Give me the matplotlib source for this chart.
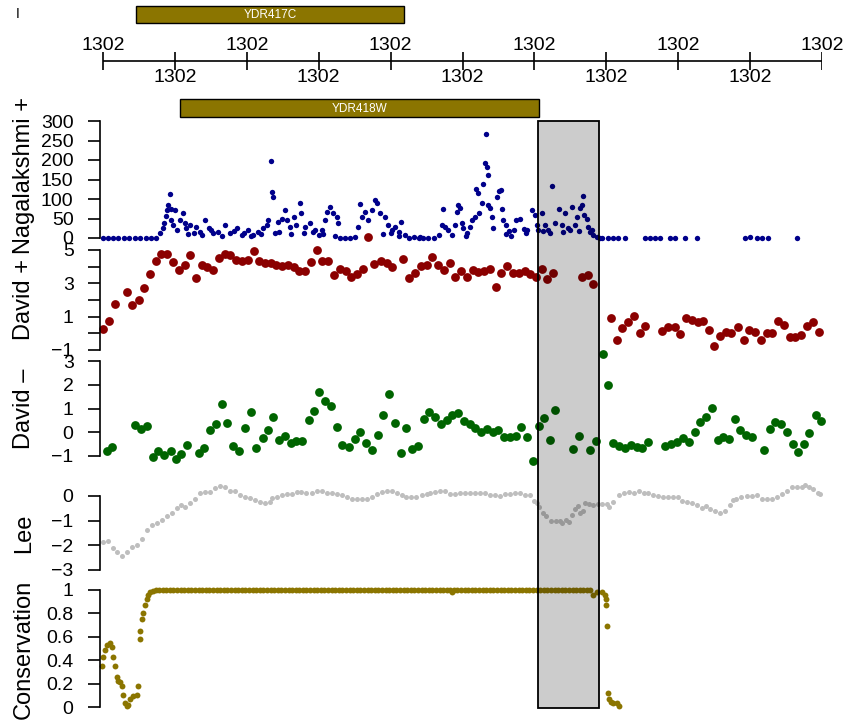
import numpy as np
import matplotlib.pyplot as plt
from matplotlib.patches import Rectangle

plt.rcParams['font.family'] = ['Liberation Sans', 'DejaVu Sans']

W, H = 852, 722

# genomic window (positions are bp offsets from region_start)
region_start = 1301500
tick_pos = [0, 100, 200, 300, 400, 500, 600, 700, 800, 900, 1000]

gene_names = ['YDR417C', 'YDR418W']
gene_start = [46, 107]
gene_end = [419, 606]

highlight_start = 605
highlight_end = 690

# Nagalakshmi + (read counts)
naga_pos = [0, 7, 14, 21, 29, 36, 45, 51, 60, 67, 74,
            79, 83, 85, 87, 89, 91, 93, 94, 95, 98, 100, 103, 107, 111, 114, 116, 118, 121, 126, 130,
            135, 138, 142, 147, 150, 153, 160, 165, 170, 177, 182, 186, 193, 196, 202, 206, 209, 216, 220,
            223, 228, 230, 233, 235, 236, 239, 244, 245, 249, 253, 256, 260, 262, 265, 269, 274, 276, 279,
            281, 288, 292, 295, 300, 304, 306, 309, 311, 316, 320, 322, 325, 327, 330, 337, 344, 351, 355,
            357, 360, 364, 369, 374, 378, 381, 385, 390, 392, 397, 400, 402, 406, 411, 412, 415, 420, 425,
            432, 439, 441, 445, 452, 460, 467, 471, 473, 476, 480, 485, 490, 492, 494, 496, 499, 501, 505,
            506, 511, 513, 517, 519, 521, 523, 527, 529, 531, 533, 534, 535, 536, 538, 541, 543, 548, 551,
            553, 555, 557, 560, 561, 564, 567, 571, 575, 580, 585, 589, 590, 596, 601, 603, 605, 610, 612,
            615, 619, 622, 625, 629, 634, 638, 640, 643, 647, 650, 652, 657, 659, 662, 663, 666, 667, 669,
            673, 675, 678, 680, 682, 687, 691, 694, 702, 709, 716, 726, 754, 761, 768, 775, 789, 796, 810,
            826, 893, 900, 910, 917, 925, 965]
naga_val = [0, 0, 0, 0, 0, 0, 0, 0, 0, 0, 0,
            12, 25, 38, 56, 72, 85, 113, 74, 46, 33, 72, 21, 46, 63, 38, 25, 10, 33, 12, 29,
            16, 8, 46, 25, 20, 12, 16, 5, 33, 12, 18, 25, 8, 14, 21, 5, 8, 16, 10,
            25, 33, 46, 198, 119, 104, 12, 42, 15, 50, 72, 46, 29, 10, 55, 33, 89, 63, 12,
            29, 38, 15, 21, 8, 21, 10, 46, 67, 80, 63, 5, 55, 38, 0, 0, 0, 3, 29,
            87, 55, 67, 46, 72, 97, 89, 63, 10, 55, 33, 12, 21, 29, 16, 5, 42, 8, 0,
            3, 0, 3, 0, 0, 0, 8, 33, 74, 29, 21, 8, 33, 67, 85, 76, 38, 25, 5,
            12, 29, 46, 55, 125, 116, 63, 89, 138, 192, 267, 181, 161, 85, 76, 55, 25, 104, 121,
            123, 74, 46, 10, 33, 19, 5, 21, 46, 50, 22, 12, 20, 72, 59, 33, 21, 63, 18,
            33, 21, 12, 133, 38, 74, 33, 15, 63, 25, 20, 79, 33, 53, 18, 76, 85, 108, 59,
            50, 29, 16, 20, 8, 3, 0, 0, 0, 0, 0, 0, 0, 0, 0, 0, 0, 0, 0,
            0, 0, 2, 0, 0, 0, 0]

# David + (log ratio)
dplus_pos = [0, 9, 17, 33, 41, 50, 57, 65, 73, 81, 89, 97, 106, 114, 121, 130, 137, 145, 153, 161,
             169, 177, 185, 193, 201, 210, 217, 225, 233, 241, 249, 257, 265, 273, 281, 289, 298, 305,
             313, 321, 330, 338, 345, 353, 362, 369, 377, 386, 395, 402, 417, 425, 434, 442, 450, 458,
             466, 474, 483, 490, 498, 506, 514, 522, 530, 538, 546, 554, 562, 570, 578, 587, 594, 602,
             611, 618, 626, 666, 674, 682,
             706, 715, 722, 730, 739, 747, 754, 778, 786, 795, 803, 811, 819, 827, 835, 843, 850, 858,
             867, 874, 883, 891, 899, 907, 915, 923, 931, 939, 947, 955, 963, 971, 979, 987, 996]
dplus_val = [0.25, 0.76, 1.77, 2.5, 1.68, 2.03, 2.72, 3.59, 4.35, 4.78, 4.78, 4.31, 3.83, 4.11, 4.68,
             3.35, 4.09, 3.97, 3.81, 4.53, 4.74, 4.68, 4.38, 4.33, 4.39, 4.92, 4.33, 4.25, 4.21, 4.09,
             4.05, 4.11, 3.97, 3.77, 3.77, 4.29, 5.0, 4.33, 4.33, 3.53, 3.89, 3.73, 3.41, 3.59, 3.89,
             5.79, 4.19, 4.33, 4.21, 4.01, 4.45, 3.35, 3.61, 4.05, 4.09, 4.58, 4.13, 3.81, 4.21, 3.41,
             3.77, 3.41, 3.81, 3.69, 3.73, 3.89, 2.8, 3.65, 4.05, 3.61, 3.65, 3.73, 3.56, 3.41, 3.85,
             3.24, 3.65, 3.41, 3.5, 2.98,
             0.92, -0.39, 0.32, 0.70, 1.04, 0.01, 0.44, 0.13, 0.39, 0.39, -0.05, 0.90, 0.82, 0.68,
             0.74, 0.21, -0.78, -0.17, 0.07, 0.01, 0.39, -0.39, 0.21, 0.07, -0.39, 0.01, 0.01, 0.74,
             0.50, -0.23, -0.23, -0.11, 0.44, 0.70, 0.07]

# David - (log ratio)
dminus_pos = [5, 13, 45, 53, 61, 69, 77, 85, 94, 101, 109, 117, 133, 141, 149, 157, 165, 173, 181,
              189, 198, 206, 213, 222, 229, 237, 245, 253, 261, 269, 277, 286, 293, 301, 309, 317,
              325, 333, 342, 350, 357, 366, 374, 382, 390, 398, 406, 414, 422, 430, 438, 446, 454,
              462, 470, 478, 486, 494, 502, 511, 518, 526, 534, 542, 550, 558, 566, 574, 582, 590,
              598, 606, 614, 622, 629, 654, 662, 678, 686, 695, 702, 710, 718, 726, 734, 742, 750,
              758, 782, 790, 798, 806, 815, 823, 830, 839, 847, 855, 863, 871, 879, 886, 894, 903,
              919, 927, 935, 943, 951, 959, 967, 975, 982, 991, 999]
dminus_val = [-0.79, -0.62, 0.31, 0.14, 0.26, -1.06, -0.80, -0.97, -0.77, -1.14, -0.90, -0.55,
              -0.86, -0.66, 0.08, 0.33, 1.21, 0.39, -0.57, -0.80, 0.18, 0.84, -0.67, -0.25, 0.09,
              0.65, -0.31, -0.15, -0.45, -0.35, -0.36, 0.52, 0.90, 1.71, 1.30, 1.10, 0.22, -0.55,
              -0.60, -0.28, -0.01, -0.45, -0.74, -0.12, 0.73, 1.63, 0.39, -0.86, 0.18, -0.72, -0.59,
              0.56, 0.84, 0.63, 0.35, 0.53, 0.71, 0.82, 0.46, 0.35, 0.18, 0.02, 0.15, 0.01, 0.11,
              -0.18, -0.21, -0.16, 0.22, -0.18, -1.23, 0.26, 0.60, -0.32, 0.94, -0.72, -0.16, -0.74,
              -0.36, 3.29, 2.01, -0.46, -0.56, -0.66, -0.53, -0.63, -0.65, -0.40, -0.59, -0.49,
              -0.43, -0.23, -0.42, 0.01, 0.45, 0.65, 1.03, -0.33, -0.20, -0.29, 0.57, 0.11, -0.12,
              -0.18, -0.74, 0.15, 0.42, 0.36, 0.02, -0.50, -0.84, -0.50, -0.03, 0.74, 0.49]

# Lee (nucleosome occupancy)
lee_pos = [0, 7, 14, 19, 27, 33, 40, 47, 54, 61, 68, 75, 82, 89, 96, 103, 109, 114, 121, 128,
           135, 142, 149, 156, 163, 170, 177, 184, 191, 198, 204, 211, 218, 225, 232, 235, 242, 249,
           256, 263, 270, 276, 283, 290, 297, 304, 311, 318, 325, 332, 339, 346, 353, 360, 367, 374,
           381, 388, 395, 402, 409, 416, 422, 429, 436, 443, 450, 455, 462, 469, 476, 483, 490, 497,
           504, 511, 517, 524, 531, 538, 545, 552, 559, 566, 573, 580, 587, 594, 600, 604, 607, 612,
           616, 623, 630, 635, 639, 644, 648, 652, 657, 660, 664, 667, 671, 676, 682, 688, 694, 701,
           704, 710, 717, 724, 731, 738, 745, 752, 758, 765, 772, 779, 786, 793, 800, 805, 812, 819,
           826, 833, 839, 844, 851, 858, 865, 872, 876, 881, 888, 895, 902, 909, 916, 923, 930, 937,
           944, 951, 958, 965, 972, 976, 982, 988, 995, 997]
lee_val = [-1.87, -1.83, -2.09, -2.29, -2.43, -2.27, -2.05, -2.0, -1.73, -1.39, -1.16, -1.09, -0.96,
           -0.80, -0.67, -0.49, -0.36, -0.45, -0.27, -0.13, 0.11, 0.15, 0.17, 0.31, 0.40, 0.35, 0.21,
           0.19, 0.04, -0.03, -0.09, -0.16, -0.24, -0.27, -0.23, -0.09, -0.03, 0.04, 0.08, 0.08, 0.16,
           0.16, 0.11, 0.13, 0.19, 0.21, 0.13, 0.11, 0.08, 0.03, -0.05, -0.11, -0.13, -0.13, -0.11,
           -0.03, 0.08, 0.16, 0.19, 0.21, 0.13, 0.05, -0.03, -0.05, -0.03, 0.04, 0.08, 0.11, 0.16,
           0.21, 0.21, 0.08, 0.08, 0.11, 0.11, 0.11, 0.13, 0.13, 0.11, 0.05, 0.03, 0.0, 0.08, 0.08,
           0.11, 0.11, 0.05, 0.05, -0.19, -0.29, -0.45, -0.67, -0.83, -1.03, -1.03, -1.03, -1.09,
           -0.96, -1.07, -0.76, -0.53, -0.40, -0.69, -0.59, -0.29, -0.32, -0.36, -0.32, -0.32, -0.32,
           -0.43, -0.24, 0.04, 0.13, 0.16, 0.11, 0.19, 0.13, 0.11, 0.04, 0.0, -0.03, -0.03, -0.03,
           -0.03, -0.19, -0.23, -0.27, -0.35, -0.49, -0.40, -0.53, -0.59, -0.69, -0.59, -0.36, -0.16,
           -0.13, -0.05, 0.0, 0.0, 0.03, -0.11, -0.13, -0.11, -0.05, 0.08, 0.21, 0.37, 0.37, 0.35,
           0.44, 0.35, 0.27, 0.13, 0.08]

# Conservation score
cons_pos = [-2, 0, 3, 6, 10, 12, 14, 17, 19, 21, 24, 26, 28, 31, 33, 35, 38, 42, 47, 49,
            51, 52, 54, 56, 58, 61, 63, 66, 70,
            73, 78, 83, 88, 93, 98, 103, 108, 113, 118, 123, 128, 133, 138, 143, 148, 153, 158, 163, 168,
            173, 178, 183, 188, 193, 198, 203, 208, 213, 218, 223, 228, 233, 238, 243, 248, 253, 258, 263, 268,
            273, 278, 283, 288, 293, 298, 303, 308, 313, 318, 323, 328, 333, 338, 343, 348, 353, 358, 363, 368,
            373, 378, 383, 388, 393, 398, 403, 408, 413, 418, 423, 428, 433, 438, 443, 448, 453, 458, 463, 468,
            473, 478, 483, 488, 493, 498, 503, 508, 513, 518, 523, 528, 533, 538, 543, 548, 553, 558, 563, 568,
            573, 578, 583, 588, 593, 598, 603, 608, 613, 618, 623, 628, 633, 638, 643, 648, 653, 658, 663, 668,
            673, 678,
            485, 682, 687, 694, 698, 699, 700, 701, 702, 704, 706, 710, 715, 717]
cons_val = [0.35, 0.43, 0.49, 0.53, 0.55, 0.51, 0.43, 0.35, 0.26, 0.22, 0.21, 0.18, 0.10, 0.03, 0.01,
            0.02, 0.07, 0.09, 0.10, 0.18, 0.58, 0.65, 0.75, 0.80, 0.87, 0.92, 0.96, 0.98, 0.99,
            1, 1, 1, 1, 1, 1, 1, 1, 1, 1, 1, 1, 1, 1, 1, 1, 1, 1, 1, 1,
            1, 1, 1, 1, 1, 1, 1, 1, 1, 1, 1, 1, 1, 1, 1, 1, 1, 1, 1, 1,
            1, 1, 1, 1, 1, 1, 1, 1, 1, 1, 1, 1, 1, 1, 1, 1, 1, 1, 1, 1,
            1, 1, 1, 1, 1, 1, 1, 1, 1, 1, 1, 1, 1, 1, 1, 1, 1, 1, 1, 1,
            1, 1, 1, 1, 1, 1, 1, 1, 1, 1, 1, 1, 1, 1, 1, 1, 1, 1, 1, 1,
            1, 1, 1, 1, 1, 1, 1, 1, 1, 1, 1, 1, 1, 1, 1, 1, 1, 1, 1, 1,
            1, 1,
            0.98, 0.96, 0.98, 0.98, 0.96, 0.92, 0.87, 0.69, 0.12, 0.07, 0.04, 0.03, 0.03, 0.01]

GENE_COLOR = '#8B7500'
XLIM = (-4.2, 1000)

fig = plt.figure(figsize=(W / 100, H / 100), dpi=100)


def panel(top, bottom):
    return fig.add_axes([100 / W, 1 - bottom / H, 722 / W, (bottom - top) / H])


def track(top, bottom, pos, val, color, size, ylim, ticks, labels, ylab, lab_y):
    ax = panel(top, bottom)
    ax.scatter(pos, val, s=size, c=color, linewidths=0, clip_on=False)
    ax.set_xlim(XLIM)
    ax.set_ylim(ylim)
    for s in ['top', 'right', 'bottom']:
        ax.spines[s].set_visible(False)
    ax.spines['left'].set_linewidth(1.2)
    ax.set_xticks([])
    ax.set_yticks(ticks)
    ax.set_yticklabels(labels)
    ax.tick_params(axis='y', length=9, width=1.2, pad=10, labelsize=14)
    ax.patch.set_visible(False)
    fig.text(24 / W, 1 - lab_y / H, ylab, rotation=90, ha='center', va='center', fontsize=17)
    return ax


track(121, 238, naga_pos, naga_val, '#00008B', 15, (0, 300),
      [0, 50, 100, 150, 200, 250, 300], ['0', '50', '100', '150', '200', '250', '300'],
      'Nagalakshmi +', 176)
track(250, 350, dplus_pos, dplus_val, '#8B0000', 40, (-1, 5),
      [-1, 0, 1, 2, 3, 4, 5], ['\u22121', '', '1', '', '3', '', '5'], 'David +', 300)
track(361, 456, dminus_pos, dminus_val, '#006400', 40, (-1, 3),
      [-1, 0, 1, 2, 3], ['\u22121', '0', '1', '2', '3'], 'David \u2013', 409)
track(496, 570, lee_pos, lee_val, '#BEBEBE', 13, (-3, 0),
      [-3, -2, -1, 0], ['\u22123', '\u22122', '\u22121', '0'], 'Lee', 533)
track(590, 707, cons_pos, cons_val, GENE_COLOR, 18, (0, 1),
      [0, 0.2, 0.4, 0.6, 0.8, 1], ['0', '0.2', '0.4', '0.6', '0.8', '1'], 'Conservation', 649)

# overlay: genome axis, genes and highlighted region (y in pixel rows)
ov = fig.add_axes([100 / W, 0, 722 / W, 1])
ov.set_xlim(XLIM)
ov.set_ylim(H, 0)
ov.axis('off')
ov.set_zorder(10)

ov.hlines(61, tick_pos[0], tick_pos[-1], color='black', lw=1.2)
for i, t in enumerate(tick_pos):
    ov.vlines(t, 52, 70, color='black', lw=1.2)
    ov.text(t, 45 if i % 2 == 0 else 78, f'{(region_start + t) / 1000:.0f}',
            ha='center', va='center', fontsize=14)

gene_rows = [(6, 23), (99, 117)]
for name, s, e, (y0, y1) in zip(gene_names, gene_start, gene_end, gene_rows):
    ov.add_patch(Rectangle((s, y0), e - s, y1 - y0, facecolor=GENE_COLOR, edgecolor='black', lw=1))
    ov.text((s + e) / 2, (y0 + y1) / 2 + 0.5, name, color='white', ha='center', va='center', fontsize=8.5)

ov.add_patch(Rectangle((highlight_start, 120.5), highlight_end - highlight_start, 587,
                       facecolor=(0, 0, 0, 0.2), edgecolor='black', lw=1.3))

fig.text(18 / W, 1 - 14 / H, 'I', ha='center', va='center', fontsize=10)

fig.savefig('out.png', dpi=100)
